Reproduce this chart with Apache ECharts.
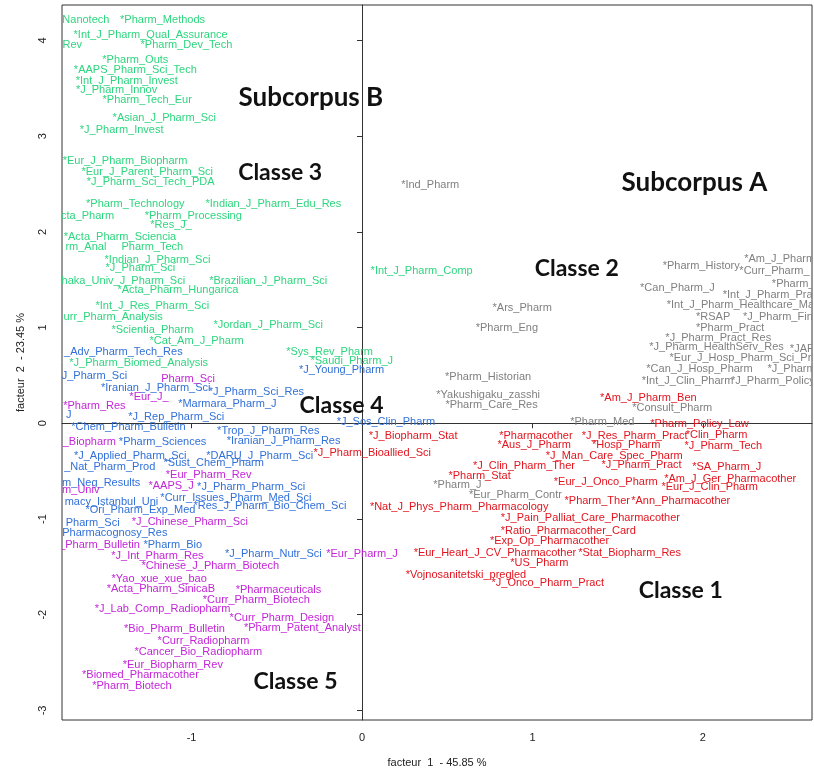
<!DOCTYPE html>
<html>
<head>
<meta charset="utf-8">
<script src="https://cdn.jsdelivr.net/npm/echarts@6/dist/echarts.min.js"></script>
<style>html,body{margin:0;padding:0;background:#fff}#c{width:814px;height:776px}</style>
</head>
<body>
<div id="c"></div>
<script>
// Axis ticks
const xTicks = [-1, 0, 1, 2];
const yTicks = [-3, -2, -1, 0, 1, 2, 3, 4];
const xRange = [-1.76, 2.64];
const yRange = [-3.1, 4.37];

// Classe 1 (red)
const classe1 = [
  [1.68, 0.26, '*Am_J_Pharm_Ben'], [1.98, -0.01, '*Pharm_Policy_Law'], [2.08, -0.12, '*Clin_Pharm'],
  [1.60, -0.13, '*J_Res_Pharm_Pract'], [1.02, -0.13, '*Pharmacother'], [1.01, -0.23, '*Aus_J_Pharm'],
  [1.55, -0.23, '*Hosp_Pharm'], [2.12, -0.24, '*J_Pharm_Tech'], [1.48, -0.34, '*J_Man_Care_Spec_Pharm'],
  [0.95, -0.45, '*J_Clin_Pharm_Ther'], [1.64, -0.44, '*J_Pharm_Pract'], [2.14, -0.46, '*SA_Pharm_J'],
  [0.69, -0.55, '*Pharm_Stat'], [1.43, -0.61, '*Eur_J_Onco_Pharm'], [2.16, -0.58, '*Am_J_Ger_Pharmacother'],
  [2.04, -0.67, '*Eur_J_Clin_Pharm'], [0.57, -0.87, '*Nat_J_Phys_Pharm_Pharmacology'], [1.38, -0.81, '*Pharm_Ther'],
  [1.87, -0.81, '*Ann_Pharmacother'], [1.34, -0.99, '*J_Pain_Palliat_Care_Pharmacother'],
  [1.21, -1.12, '*Ratio_Pharmacother_Card'], [1.10, -1.23, '*Exp_Op_Pharmacother'],
  [0.78, -1.35, '*Eur_Heart_J_CV_Pharmacother'], [1.57, -1.35, '*Stat_Biopharm_Res'], [1.04, -1.46, '*US_Pharm'],
  [0.61, -1.58, '*Vojnosanitetski_pregled'], [1.09, -1.67, '*J_Onco_Pharm_Pract'],
  [0.30, -0.13, '*J_Biopharm_Stat'], [0.06, -0.31, '*J_Pharm_Bioallied_Sci']
];

// Classe 2 (grey)
const classe2 = [
  [0.40, 2.49, '*Ind_Pharm'], [0.94, 1.20, '*Ars_Pharm'], [0.85, 1.00, '*Pharm_Eng'],
  [0.74, 0.48, '*Pharm_Historian'], [0.74, 0.30, '*Yakushigaku_zasshi'], [0.76, 0.19, '*Pharm_Care_Res'],
  [0.56, -0.64, '*Pharm_J'], [0.90, -0.75, '*Eur_Pharm_Contr'], [1.41, 0.01, '*Pharm_Med'],
  [1.82, 0.16, '*Consult_Pharm'], [1.99, 1.64, '*Pharm_History'], [1.85, 1.41, '*Can_Pharm_J'],
  [2.06, 1.11, '*RSAP'], [2.16, 1.00, '*Pharm_Pract'], [2.09, 0.89, '*J_Pharm_Pract_Res'],
  [2.08, 0.80, '*J_Pharm_HealthServ_Res'], [1.98, 0.57, '*Can_J_Hosp_Pharm'], [1.91, 0.44, '*Int_J_Clin_Pharm'],
  [2.45, 1.72, '*Am_J_Pharm'], [2.42, 1.59, '*Curr_Pharm_'], [2.53, 1.46, '*Pharm_'],
  [2.38, 1.34, '*Int_J_Pharm_Pra'], [2.22, 1.24, '*Int_J_Pharm_Healthcare_Ma'], [2.44, 1.11, '*J_Pharm_Fin'],
  [2.58, 0.78, '*JAF'], [2.22, 0.68, '*Eur_J_Hosp_Pharm_Sci_Pr'], [2.52, 0.57, '*J_Pharm'],
  [2.41, 0.44, '*J_Pharm_Policy']
];

// Classe 3 (green)
const classe3 = [
  [-1.62, 4.21, 'Nanotech'], [-1.17, 4.21, '*Pharm_Methods'], [-1.24, 4.06, '*Int_J_Pharm_Qual_Assurance'],
  [-1.70, 3.95, 'Rev'], [-1.03, 3.95, '*Pharm_Dev_Tech'], [-1.33, 3.80, '*Pharm_Outs'],
  [-1.33, 3.69, '*AAPS_Pharm_Sci_Tech'], [-1.38, 3.58, '*Int_J_Pharm_Invest'], [-1.44, 3.48, '*J_Pharm_Innov'],
  [-1.26, 3.38, '*Pharm_Tech_Eur'], [-1.16, 3.19, '*Asian_J_Pharm_Sci'], [-1.41, 3.06, '*J_Pharm_Invest'],
  [-1.39, 2.74, '*Eur_J_Pharm_Biopharm'], [-1.26, 2.63, '*Eur_J_Parent_Pharm_Sci'],
  [-1.24, 2.52, '*J_Pharm_Sci_Tech_PDA'], [-1.33, 2.29, '*Pharm_Technology'],
  [-0.52, 2.29, '*Indian_J_Pharm_Edu_Res'], [-1.61, 2.17, 'cta_Pharm'], [-0.99, 2.17, '*Pharm_Processing'],
  [-1.12, 2.07, '*Res_J_'], [-1.42, 1.95, '*Acta_Pharm_Sciencia'], [-1.62, 1.84, 'rm_Anal'],
  [-1.23, 1.84, 'Pharm_Tech'], [-1.20, 1.71, '*Indian_J_Pharm_Sci'], [-1.30, 1.62, '*J_Pharm_Sci'],
  [-1.40, 1.49, 'haka_Univ_J_Pharm_Sci'], [-0.55, 1.49, '*Brazilian_J_Pharm_Sci'],
  [-1.08, 1.39, '*Acta_Pharm_Hungarica'], [-1.23, 1.23, '*Int_J_Res_Pharm_Sci'],
  [-1.46, 1.11, 'urr_Pharm_Analysis'], [-0.55, 1.03, '*Jordan_J_Pharm_Sci'], [-1.23, 0.97, '*Scientia_Pharm'],
  [-0.97, 0.86, '*Cat_Am_J_Pharm'], [-0.19, 0.75, '*Sys_Rev_Pharm'], [-0.06, 0.65, '*Saudi_Pharm_J'],
  [-1.31, 0.63, '*J_Pharm_Biomed_Analysis'], [0.35, 1.59, '*Int_J_Pharm_Comp']
];

// Classe 4 (blue)
const classe4 = [
  [-1.40, 0.75, '_Adv_Pharm_Tech_Res'], [-1.57, 0.49, 'J_Pharm_Sci'], [-0.12, 0.56, '*J_Young_Pharm'],
  [-1.21, 0.37, '*Iranian_J_Pharm_Sci'], [-0.62, 0.33, '*J_Pharm_Sci_Res'], [-0.79, 0.20, '*Marmara_Pharm_J'],
  [-1.72, 0.09, 'J'], [-1.09, 0.07, '*J_Rep_Pharm_Sci'], [-1.37, -0.04, '*Chem_Pharm_Bulletin'],
  [-0.55, -0.08, '*Trop_J_Pharm_Res'], [0.14, 0.01, '*J_Sos_Clin_Pharm'], [-0.46, -0.19, '*Iranian_J_Pharm_Res'],
  [-1.17, -0.20, '*Pharm_Sciences'], [-1.36, -0.34, '*J_Applied_Pharm_Sci'], [-0.60, -0.34, '*DARU_J_Pharm_Sci'],
  [-1.48, -0.46, '_Nat_Pharm_Prod'], [-0.87, -0.41, '*Sust_Chem_Pharm'], [-1.53, -0.62, 'm_Neg_Results'],
  [-0.65, -0.67, '*J_Pharm_Pharm_Sci'], [-0.74, -0.78, '*Curr_Issues_Pharm_Med_Sci'],
  [-1.47, -0.82, 'macy_Istanbul_Uni'], [-1.30, -0.91, '*Ori_Pharm_Exp_Med'],
  [-0.54, -0.86, '*Res_J_Pharm_Bio_Chem_Sci'], [-1.58, -1.04, 'Pharm_Sci'], [-1.45, -1.15, 'Pharmacognosy_Res'],
  [-1.11, -1.27, '*Pharm_Bio'], [-0.52, -1.37, '*J_Pharm_Nutr_Sci']
];

// Classe 5 (magenta)
const classe5 = [
  [-1.02, 0.46, 'Pharm_Sci'], [-1.57, 0.18, '*Pharm_Res'], [-1.25, 0.27, '*Eur_J_'],
  [-1.60, -0.20, '_Biopharm'], [-0.90, -0.54, '*Eur_Pharm_Rev'], [-1.12, -0.66, '*AAPS_J'],
  [-1.65, -0.70, 'm_Univ'], [-1.01, -1.03, '*J_Chinese_Pharm_Sci'], [-1.54, -1.27, '_Pharm_Bulletin'],
  [-1.20, -1.39, '*J_Int_Pharm_Res'], [-0.89, -1.49, '*Chinese_J_Pharm_Biotech'], [-1.19, -1.63, '*Yao_xue_xue_bao'],
  [-1.18, -1.73, '*Acta_Pharm_SinicaB'], [-0.49, -1.74, '*Pharmaceuticals'], [-0.62, -1.85, '*Curr_Pharm_Biotech'],
  [-1.17, -1.94, '*J_Lab_Comp_Radiopharm'], [-0.47, -2.03, '*Curr_Pharm_Design'],
  [-1.10, -2.15, '*Bio_Pharm_Bulletin'], [-0.35, -2.14, '*Pharm_Patent_Analyst'], [-0.93, -2.27, '*Curr_Radiopharm'],
  [-0.96, -2.39, '*Cancer_Bio_Radiopharm'], [-1.11, -2.53, '*Eur_Biopharm_Rev'],
  [-1.30, -2.63, '*Biomed_Pharmacother'], [-1.35, -2.74, '*Pharm_Biotech'], [0.00, -1.37, '*Eur_Pharm_J']
];

// Region annotations
const subcorpusLabels = [[-0.30, 3.40, 'Subcorpus B'], [1.95, 2.51, 'Subcorpus A']];
const classeLabels = [
  [-0.48, 2.62, 'Classe 3'], [1.26, 1.62, 'Classe 2'], [-0.12, 0.19, 'Classe 4'],
  [1.87, -1.75, 'Classe 1'], [-0.39, -2.70, 'Classe 5']
];

const colors = { c1: '#E3141E', c2: '#808080', c3: '#2DD67E', c4: '#3170D8', c5: '#C424D8' };

function textSeries(data, color, font) {
  return {
    type: 'custom',
    clip: true,
    data: data,
    encode: { x: 0, y: 1 },
    renderItem: function (params, api) {
      const p = api.coord([api.value(0), api.value(1)]);
      return {
        type: 'text',
        x: p[0], y: p[1],
        style: {
          text: data[params.dataIndex][2],
          fill: color,
          font: font,
          align: 'center',
          verticalAlign: 'middle'
        }
      };
    },
    z: 5
  };
}

const labelFont = '11px "Liberation Sans", Arial, sans-serif';
const chart = echarts.init(document.getElementById('c'));
chart.setOption({
  animation: false,
  backgroundColor: '#fff',
  grid: { left: 62, top: 5, right: 2, bottom: 56, show: true, borderColor: '#333', borderWidth: 1, backgroundColor: 'transparent' },
  xAxis: {
    type: 'value', min: xRange[0], max: xRange[1],
    name: 'facteur  1  - 45.85 %', nameLocation: 'middle', nameGap: 37,
    nameTextStyle: { color: '#222', fontSize: 11, fontFamily: 'Liberation Sans' },
    axisLine: { show: true, lineStyle: { color: '#333' } },
    axisTick: { show: true, length: 5, inside: false, customValues: xTicks, lineStyle: { color: '#333' } },
    axisLabel: { customValues: xTicks, color: '#222', fontSize: 11, fontFamily: 'Liberation Sans', margin: 12 },
    splitLine: { show: false }
  },
  yAxis: {
    type: 'value', min: yRange[0], max: yRange[1],
    name: 'facteur  2  - 23.45 %', nameLocation: 'middle', nameGap: 36,
    nameTextStyle: { color: '#222', fontSize: 11, fontFamily: 'Liberation Sans' },
    axisLine: { show: true, lineStyle: { color: '#333' } },
    axisTick: { show: true, length: 5, inside: false, customValues: yTicks, lineStyle: { color: '#333' } },
    axisLabel: { customValues: yTicks, color: '#222', fontSize: 11, fontFamily: 'Liberation Sans', margin: 14, rotate: 90 },
    splitLine: { show: false }
  },
  series: [
    {
      type: 'line', data: [], silent: true,
      markLine: {
        silent: true, symbol: 'none', animation: false,
        label: { show: false },
        lineStyle: { color: '#333', type: [5, 3], width: 1 },
        data: [{ xAxis: 0 }, { yAxis: 0 }]
      }
    },
    textSeries(classe1, colors.c1, labelFont),
    textSeries(classe2, colors.c2, labelFont),
    textSeries(classe3, colors.c3, labelFont),
    textSeries(classe4, colors.c4, labelFont),
    textSeries(classe5, colors.c5, labelFont),
    textSeries(subcorpusLabels, '#111', 'bold 26px Lato, "Open Sans", sans-serif'),
    textSeries(classeLabels, '#111', 'bold 23px Lato, "Open Sans", sans-serif')
  ]
});
</script>
</body>
</html>
